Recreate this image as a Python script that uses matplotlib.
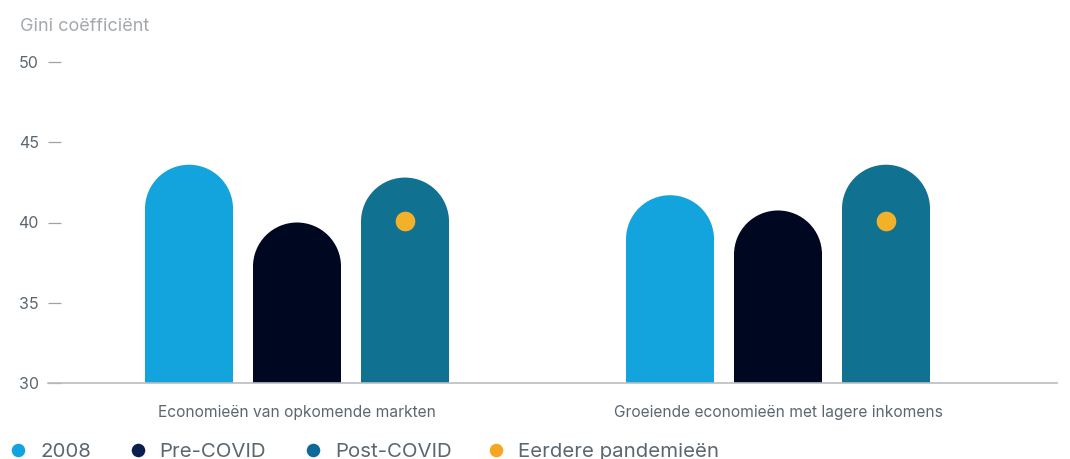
import matplotlib
matplotlib.use("Agg")
import matplotlib.pyplot as plt
from matplotlib.patches import Rectangle, Ellipse
import numpy as np

# ---- data ----
categories = ["Economieën van opkomende markten", "Groeiende economieën met lagere inkomens"]
series_names = ["2008", "Pre-COVID", "Post-COVID"]
values_2008 = [43.6, 41.7]
values_pre = [40.0, 40.75]
values_post = [42.8, 43.6]
prev_pandemics = [40.1, 40.1]
yticks = [30, 35, 40, 45, 50]
ylabel = "Gini coëfficiënt"
legend_labels = ["2008", "Pre-COVID", "Post-COVID", "Eerdere pandemieën"]

# ---- style ----
bar_colors = ["#13A4DD", "#000720", "#117191"]
legend_colors = ["#13A4DD", "#0B1F4F", "#0D6A98", "#F5A623"]
dot_color = "#F3B12A"
text_color = "#5B6770"
light_text = "#A4A9AE"
axis_color = "#B9BDC1"

plt.rcParams['font.family'] = ['Inter', 'DejaVu Sans']

W, H = 1070, 459
fig = plt.figure(figsize=(W / 100, H / 100), dpi=100)
ax = fig.add_axes([48 / W, (H - 383) / H, (1057 - 48) / W, (383 - 62) / H])

ax.set_xlim(-0.5177, 1.58)
ax.set_ylim(30, 50)

bar_w = 0.183
offset = 0.2245
series = [values_2008, values_pre, values_post]

# pixel scale for rounded tops
fig.canvas.draw()
p0 = ax.transData.transform((0, 30))
p1 = ax.transData.transform((1, 31))
px_per_x = p1[0] - p0[0]
px_per_y = p1[1] - p0[1]
r_px = bar_w * px_per_x / 2
r_y = r_px / px_per_y

x = np.arange(len(categories))
for i, vals in enumerate(series):
    for j, v in enumerate(vals):
        xc = x[j] + (i - 1) * offset
        ax.add_patch(Rectangle((xc - bar_w / 2, 30), bar_w, v - r_y - 30,
                               facecolor=bar_colors[i], edgecolor='none', zorder=2))
        ax.add_patch(Ellipse((xc, v - r_y), bar_w, 2 * r_y,
                             facecolor=bar_colors[i], edgecolor='none', zorder=2))

ax.scatter(x + offset, prev_pandemics, s=200, color=dot_color, zorder=3, linewidths=0)

for s in ['left', 'top', 'right']:
    ax.spines[s].set_visible(False)
ax.spines['bottom'].set_color(axis_color)
ax.spines['bottom'].set_linewidth(1.2)
ax.spines['bottom'].set_zorder(4)

ax.set_yticks(yticks)
ax.set_yticklabels([str(t) for t in yticks])
ax.tick_params(axis='y', direction='in', length=9.5, width=0.9, color="#9EA3A8",
               pad=6.5, labelsize=11.5, labelcolor=text_color)
ax.set_xticks(x)
ax.set_xticklabels(categories)
ax.tick_params(axis='x', length=0, pad=16, labelsize=11.2, labelcolor=text_color)

fig.text(20 / W, 1 - 31 / H, ylabel, fontsize=13, color=light_text, va='baseline', ha='left')

# legend (manual, along bottom)
lax = fig.add_axes([0, 0, 1, 1])
lax.set_xlim(0, W)
lax.set_ylim(H, 0)
lax.axis('off')
marker_x = [18, 137.5, 312.5, 496]
text_x = [40, 159, 335, 518]
for mx, tx, lab, c in zip(marker_x, text_x, legend_labels, legend_colors):
    lax.scatter([mx], [450], s=95, color=c, linewidths=0)
    lax.text(tx, 457, lab, fontsize=14.7, color=text_color, va='baseline', ha='left')

fig.savefig("out.png", dpi=100)
